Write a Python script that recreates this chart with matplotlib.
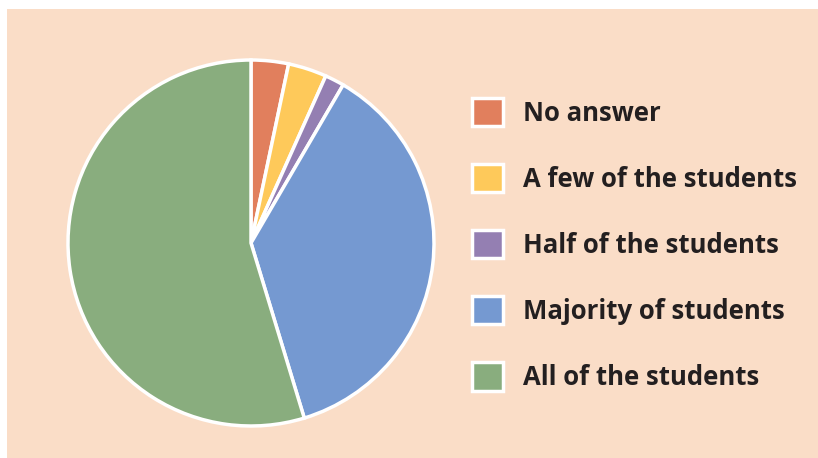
import matplotlib.pyplot as plt
from matplotlib.patches import Rectangle

labels = ["No answer", "A few of the students", "Half of the students",
          "Majority of students", "All of the students"]
shares = [3.3, 3.4, 1.7, 36.9, 54.7]
colors = ["#E17F5D", "#FEC95A", "#947FB2", "#7599D1", "#89AD7E"]

W, H = 818, 458
fig = plt.figure(figsize=(W / 100, H / 100), dpi=100)
fig.patch.set_facecolor("white")

# peach panel behind everything
fig.patches.append(Rectangle((7 / W, 0), 1 - 7 / W, 1 - 9 / H,
                             transform=fig.transFigure, facecolor="#FADDC7",
                             edgecolor="none", zorder=-5))

cx, cy, r = 251, 243, 183
ax = fig.add_axes([(cx - r) / W, (H - cy - r) / H, 2 * r / W, 2 * r / H])
wedges, _ = ax.pie(shares, colors=colors, startangle=90, counterclock=False,
                   wedgeprops=dict(edgecolor="white", linewidth=2.5))
ax.set_xlim(-1.0, 1.0)
ax.set_ylim(-1.0, 1.0)
ax.set_aspect("equal")
ax.axis("off")

fs = 18.5
fig.legend(wedges, labels, loc="upper left",
           bbox_to_anchor=(472 / W, 1 - 98 / H), frameon=False,
           prop=dict(family="Open Sans", weight="bold", size=fs),
           labelcolor="#231F20", borderpad=0, borderaxespad=0,
           handlelength=1.2, handleheight=1.3, handletextpad=0.78,
           labelspacing=1.46)

fig.savefig("out.png", dpi=100)
